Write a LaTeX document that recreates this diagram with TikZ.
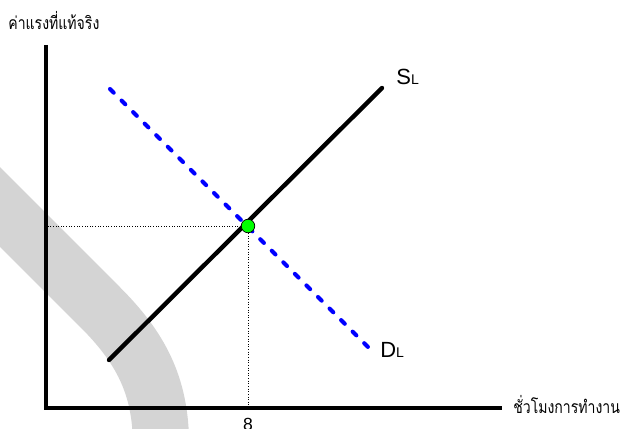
\documentclass[tikz,border=0pt]{standalone}
\usepackage{fontspec}
\setmainfont{Liberation Sans}
\newfontfamily\thaifont[Script=Thai, FakeStretch=0.8]{Loma}
\usetikzlibrary{positioning}

\begin{document}
\begin{tikzpicture}[
    x=0.02cm, y=-0.02cm,
    axis/.style={line width=2.3pt},
    supply/.style={line width=2.5pt, line cap=round},
    demand/.style={blue, line width=2.3pt, line cap=round,
                   dash pattern=on 3pt off 6.3pt},
    guide/.style={densely dotted, line width=0.5pt},
    eqpoint/.style={circle, fill=green, draw=black, line width=0.4pt,
                    minimum size=0.27cm, inner sep=0pt},
    axislabel/.style={font=\thaifont\fontsize{10}{12}\selectfont, inner sep=0pt},
    curvelabel/.style={font=\fontsize{12.5}{14}\selectfont, inner sep=0pt}
  ]
    \useasboundingbox (0,0) rectangle (622,429);

    % Background band
    \begin{scope}
      \clip (0,0) rectangle (622,429);
      \draw[black!17, line width=32pt]
        (-30,177) -- (100,307) .. controls (140,347) and (161,385) .. (161,445);
    \end{scope}

    % Axes
    \coordinate (origin) at (46,408);
    \coordinate (ytop) at (46,45);
    \coordinate (xend) at (502,408);
    \draw[axis] (ytop) -- (origin |- 0,410);
    \draw[axis] (44,408) -- (xend);
    \node[axislabel, anchor=base west] (ylab) at (8,30) {ค่าแรงที่แท้จริง};
    \node[axislabel, anchor=base west] (xlab) at (513,413) {ชั่วโมงการทำงาน};

    % Supply and demand
    \coordinate (S-1) at (109,360);
    \coordinate (S-2) at (382,88);
    \coordinate (D-1) at (110,89);
    \coordinate (D-2) at (372,351);
    \draw[demand] (D-1) -- (D-2);
    \draw[supply] (S-1) -- (S-2);
    \node[curvelabel, anchor=base west] (SL) at (396,85)
      {S{\fontsize{8}{9}\selectfont L}};
    \node[curvelabel, anchor=base west] (DL) at (380,357)
      {D{\fontsize{8}{9}\selectfont L}};

    % Equilibrium
    \node[eqpoint] (E) at (248,226) {};
    \draw[guide] (E) -- (E -| origin);
    \draw[guide] (E) -- (E |- origin);
    \node[font=\fontsize{10}{12}\selectfont, anchor=north, inner sep=0pt]
      (q) at (248,418) {8};
  \end{tikzpicture}
\end{document}
